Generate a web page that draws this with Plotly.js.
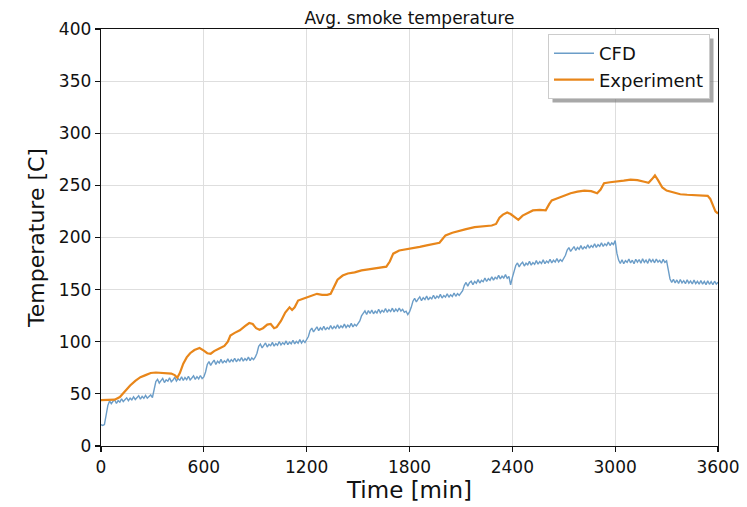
<!DOCTYPE html>
<html>
<head>
<meta charset="utf-8">
<script src="https://cdn.plot.ly/plotly-3.0.1.min.js"></script>
<style>html,body{margin:0;padding:0;background:#fff;}#chart{width:747px;height:507px;}</style>
</head>
<body>
<div id="chart"></div>
<script>
// CFD sampled every 10 min
const cfdStep = 10;
const cfdValues = [
  20.5, 19.8, 20.6, 31, 39, 43.2, 40.6, 42.9, 44.1, 40.8, 43.5, 42.1, 45.3, 42.6, 44.8, 46.2, 43.4, 45.9, 44.2, 47.1, 44.6, 46.3, 48.2, 44.9, 47.6, 45.8, 48.5, 45.9, 47.2, 49, 46.5,
  54, 61.8, 63.9, 60.4, 62.7, 64.8, 60.9, 63.5, 62.1, 65.4, 61.6, 63.2, 65.9, 62.3, 64.6, 63.1, 66.4, 62.8, 65.7, 63.6, 66.9, 63.4, 65.2, 67.3, 63.9, 66.5, 64.4, 67.6, 64.7, 66.3,
  71, 78.2, 80.9, 77.3, 80.1, 82.4, 78.2, 81.3, 79.6, 83.1, 79.4, 81.8, 80.2, 83.6, 80.3, 82.9, 81.1, 84.2, 80.8, 83.4, 81.7, 84.9, 81.4, 83.8, 82.2, 85.3, 81.9, 84.6, 82.8, 85.1,
  89, 95.7, 97.8, 94.1, 96.6, 98.9, 94.9, 97.6, 96.2, 99.4, 95.8, 98.3, 96.7, 100.2, 96.9, 99.1, 97.5, 100.8, 97.2, 99.6, 98.1, 101.5, 97.9, 100.4, 98.6, 102, 98.8, 101.3, 99.2, 101.8,
  105, 110.8, 113.1, 109.4, 112.2, 114.3, 110.6, 113.4, 111.5, 114.9, 111.3, 113.7, 112.1, 115.6, 112.2, 114.8, 112.9, 116.3, 112.8, 115.2, 113.6, 116.9, 113.5, 115.9, 114.1, 117.6, 114.3, 116.8, 115.2, 118.1,
  120, 124.8, 127.9, 129.6, 126.2, 129.9, 127.1, 130.4, 126.8, 129.3, 127.6, 131.2, 127.8, 130.1, 128.4, 131.9, 128.3, 130.8, 128.9, 132.2, 128.7, 131.4, 129.2, 132.3, 129.4, 131.1, 128.2, 129.3, 126.1, 128.6,
  133, 138.9, 141.7, 138.2, 140.9, 143.1, 139.4, 142.2, 140.5, 143.8, 140.2, 142.7, 141.1, 144.6, 141.2, 143.8, 142.1, 145.4, 141.9, 144.3, 142.8, 146.1, 142.7, 145.1, 143.4, 146.8, 143.6, 146.2, 144.5, 147.3,
  149, 154.1, 156.9, 153.4, 156.6, 158.2, 154.7, 157.9, 156.1, 159.6, 156.3, 158.9, 157.6, 161.2, 157.8, 160.5, 158.9, 162.3, 159.1, 161.8, 160.4, 163.7, 160.3, 162.9, 161.2, 164.4, 160.9, 162.6, 154.5, 161.5,
  169, 173.2, 175.6, 171.8, 174.7, 176.3, 172.6, 175.4, 173.8, 177.1, 173.5, 175.9, 174.3, 177.8, 174.4, 176.9, 175.1, 178.5, 174.9, 177.4, 175.8, 179.1, 175.7, 178.2, 176.4, 179.7, 176.5, 178.9, 177.2, 179.6,
  183, 187.9, 190.4, 186.7, 189.6, 191.3, 187.5, 190.5, 188.8, 192.2, 188.7, 191.1, 189.6, 193.1, 189.8, 192.3, 190.6, 194, 190.5, 193.1, 191.5, 194.9, 191.4, 193.9, 192.2, 195.6, 192.3, 194.8, 193.2, 197,
  185, 178.3, 175.1, 178.6, 174.9, 177.8, 176.2, 179.4, 175.6, 178.2, 174.8, 179.1, 176.3, 178.9, 175.4, 179.6, 176.1, 178.4, 175.2, 179.5, 176.6, 178.8, 175.7, 179.3, 176.4, 178.1, 175.3, 179, 176.2, 177.6,
  169, 160.2, 156.9, 159.8, 156.4, 159.3, 155.9, 159.7, 156.5, 158.6, 155.7, 159.4, 156.2, 158.3, 155.4, 159.1, 155.8, 158, 155.2, 158.7, 155.3, 157.9, 154.8, 158.4, 155.1, 157.6, 154.7, 158.1, 155.3, 157.2
];
const cfdTime = cfdValues.map((_, i) => i * cfdStep);

// Experiment
const expTime = [0, 40, 80, 110, 140, 170, 200, 230, 260, 290, 320, 350, 380, 410, 430, 445, 460, 480, 500, 520, 545, 575, 600, 620, 640, 660, 690, 720, 740, 755, 780, 810, 840, 865, 885, 905, 925, 945, 970, 990, 1010, 1025, 1050, 1075, 1100, 1115, 1130, 1150, 1175, 1200, 1230, 1260, 1290, 1320, 1340, 1360, 1380, 1410, 1440, 1480, 1520, 1560, 1600, 1640, 1665, 1685, 1705, 1740, 1780, 1820, 1860, 1900, 1940, 1975, 1995, 2010, 2050, 2090, 2130, 2180, 2230, 2280, 2305, 2325, 2345, 2370, 2390, 2410, 2435, 2460, 2490, 2520, 2560, 2595, 2615, 2630, 2660, 2700, 2740, 2780, 2820, 2860, 2895, 2915, 2935, 2970, 3010, 3050, 3090, 3130, 3170, 3195, 3215, 3232, 3250, 3275, 3300, 3340, 3380, 3420, 3460, 3500, 3540, 3555, 3570, 3585, 3600];
const expValues = [44, 44, 44.5, 47, 53, 58, 62.5, 66, 68, 70, 70.5, 70, 70, 69.5, 68, 65.5, 70, 79, 85, 89, 92, 94, 91.5, 89, 88.5, 91, 93.5, 96, 100, 106, 108.5, 111, 115, 118, 117, 113, 111.5, 113, 116.5, 117, 113, 114, 120, 128, 133, 130.5, 133, 139.5, 141, 142.5, 144, 146, 145, 145, 146, 153, 159.5, 163.5, 165.5, 166.5, 168.5, 169.5, 170.5, 171, 172, 177, 184.5, 187.5, 188.5, 189.5, 191, 192.5, 194, 195, 199, 202, 204.5, 206.5, 208, 210, 211, 211.5, 213, 219, 222, 224, 222.5, 220, 217, 221, 223.5, 226, 226.5, 226, 232, 235.5, 237.5, 240, 242.5, 244, 245, 244.5, 242.5, 246, 252, 253, 253.5, 254.5, 255.5, 255, 253.5, 252.5, 256, 259.5, 255, 248, 245, 243, 241.5, 241, 240.5, 240.5, 240, 237, 231, 225, 223];

const xTicks = [0, 600, 1200, 1800, 2400, 3000, 3600];
const yTicks = [0, 50, 100, 150, 200, 250, 300, 350, 400];

const font = 'DejaVu Sans, sans-serif';
const ink = '#111';

const traces = [
  {x: cfdTime, y: cfdValues, name: 'CFD', type: 'scatter', mode: 'lines',
   line: {color: '#6b9dc8', width: 1.4}},
  {x: expTime, y: expValues, name: 'Experiment', type: 'scatter', mode: 'lines',
   line: {color: '#e8861a', width: 2.2}}
];

const layout = {
  width: 747, height: 507,
  margin: {l: 101, r: 29, t: 29, b: 61},
  paper_bgcolor: '#fff', plot_bgcolor: '#fff',
  font: {family: font, color: ink},
  title: {text: 'Avg. smoke temperature', font: {size: 17, family: font, color: ink},
          x: 0.5, xref: 'paper', xanchor: 'center', y: 1, yref: 'paper', yanchor: 'bottom', pad: {b: 5}},
  xaxis: {range: [0, 3600], tickvals: xTicks, ticktext: xTicks.map(String),
          showgrid: true, gridcolor: '#dedede', gridwidth: 1, zeroline: false,
          showline: true, linecolor: ink, linewidth: 1.3, mirror: true,
          ticks: 'outside', ticklen: 5, tickcolor: ink, tickwidth: 1.2,
          tickfont: {size: 17, family: font, color: ink},
          title: {text: 'Time [min]', font: {size: 23, family: font, color: ink}, standoff: 5}},
  yaxis: {range: [0, 400], tickvals: yTicks, ticktext: yTicks.map(String),
          showgrid: true, gridcolor: '#dedede', gridwidth: 1, zeroline: false,
          showline: true, linecolor: ink, linewidth: 1.3, mirror: true,
          ticks: 'outside', ticklen: 5, tickcolor: ink, tickwidth: 1.2,
          tickfont: {size: 17, family: font, color: ink},
          title: {text: 'Temperature [C]', font: {size: 22, family: font, color: ink}, standoff: 8}},
  showlegend: true,
  legend: {x: (710 - 101) / 617, y: 1 - (34 - 29) / 417, xanchor: 'right', yanchor: 'top',
           bgcolor: '#fff', bordercolor: '#cccccc', borderwidth: 1,
           font: {size: 18, family: font, color: ink},
           tracegroupgap: 0, itemwidth: 40}
};

Plotly.newPlot('chart', traces, layout, {displayModeBar: false, staticPlot: true}).then(gd => {
  // legend drop shadow, sized from the rendered legend box
  const bg = gd.querySelector('.legend .bg');
  if (!bg) return;
  const r = bg.getBoundingClientRect();
  const c = gd.getBoundingClientRect();
  const sz = gd._fullLayout._size;
  const off = 4;
  const toX = px => (px - c.left - sz.l) / sz.w;
  const toY = py => 1 - (py - c.top - sz.t) / sz.h;
  Plotly.relayout(gd, {shapes: [{type: 'rect', xref: 'paper', yref: 'paper', layer: 'above',
    x0: toX(r.left + off), x1: toX(r.right + off), y0: toY(r.bottom + off), y1: toY(r.top + off),
    fillcolor: 'rgba(110,110,110,0.6)', line: {width: 0}}]});
});
</script>
</body>
</html>
